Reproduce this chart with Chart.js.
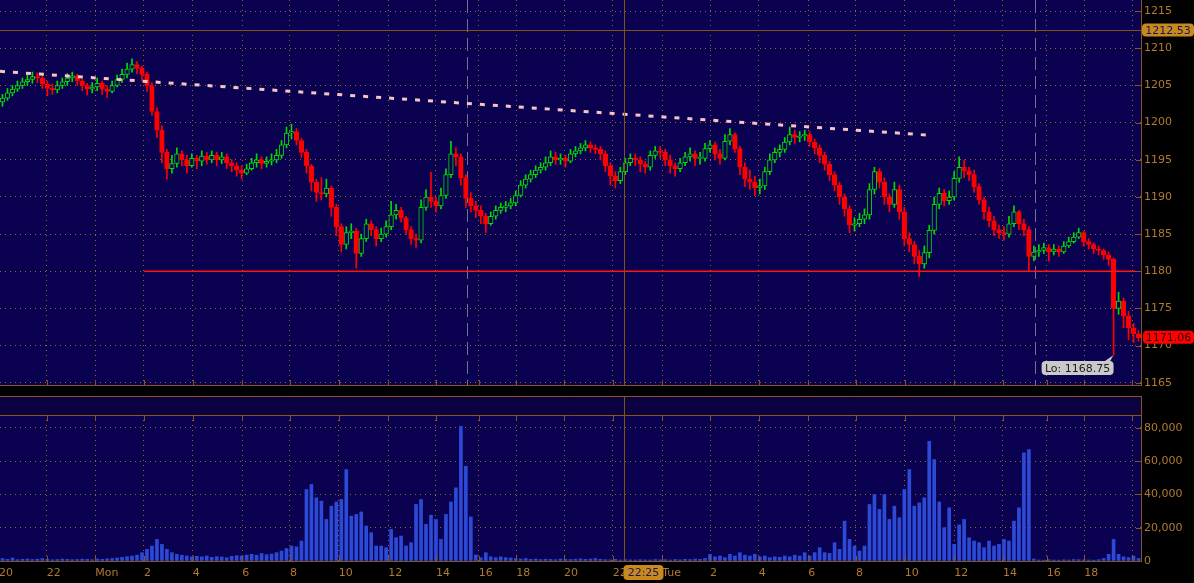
<!DOCTYPE html>
<html>
<head>
<meta charset="utf-8">
<script src="https://cdn.jsdelivr.net/npm/chart.js@4/dist/chart.umd.min.js"></script>
<style>
  html, body { margin: 0; padding: 0; background: #000; overflow: hidden; }
  #wrap { position: relative; width: 1194px; height: 583px; }
  #price { position: absolute; left: 0; top: 0; }
  #volume { position: absolute; left: 0; top: 386px; }
</style>
</head>
<body>
<div id="wrap">
  <canvas id="price" width="1194" height="386"></canvas>
  <canvas id="volume" width="1194" height="197"></canvas>
</div>
<script>
// bars (roughly 12 min each), oldest first
const firstOpen = 1202.8;
const closes = [
  1203.3, 1204, 1204.5, 1205, 1205.5, 1205.8, 1206.2, 1206, 1205.2, 1204.6,
  1204.4, 1205, 1205.5, 1206, 1206.3, 1205.6, 1205, 1204.5, 1204.8, 1205.3,
  1204.5, 1204.2, 1205, 1205.8, 1206.5, 1207.2, 1207.8, 1207.3, 1206.5, 1205,
  1201.5, 1199, 1196, 1193.8, 1194.5, 1195.8, 1195, 1194.2, 1195.2, 1194.8,
  1195.5, 1195, 1195.6, 1195, 1195.4, 1194.6, 1194.2, 1193.6, 1193.2, 1193.8,
  1194.6, 1195, 1194.5, 1194.8, 1195, 1195.6, 1197, 1198.6, 1198.8, 1197.6,
  1196, 1194.2, 1192, 1190.6, 1190.4, 1191.2, 1188.6, 1186, 1183.6, 1185.2,
  1185.4, 1182.4, 1184.4, 1186.4, 1185.6, 1184.4, 1185, 1186, 1187.6, 1188.2,
  1187.2, 1185.6, 1184.4, 1184.2, 1188.6, 1190, 1189.4, 1188.8, 1190.2, 1193,
  1195.8, 1195.4, 1192.6, 1189.8, 1188.8, 1188.2, 1187.4, 1186.4, 1187.4, 1188.2,
  1188.6, 1188.8, 1189.2, 1190.2, 1191.6, 1192.4, 1193, 1193.6, 1194, 1194.6,
  1195.4, 1195, 1195.2, 1194.8, 1195.8, 1196.2, 1196.6, 1197, 1196.6, 1196.4,
  1195.8, 1194.2, 1192.8, 1192.2, 1193.4, 1194.6, 1195.2, 1195, 1194.4, 1194,
  1195.6, 1196.2, 1196, 1195, 1194.2, 1193.8, 1194.6, 1195.4, 1195.8, 1195.2,
  1195.2, 1196.5, 1197, 1195.8, 1195.2, 1197.5, 1198.4, 1196.5, 1194, 1192.4,
  1192, 1191.2, 1191.5, 1193.4, 1195, 1196, 1196.4, 1197.4, 1198.4, 1198,
  1198.2, 1198.4, 1197.4, 1196.6, 1195.6, 1194.4, 1193, 1191.6, 1190, 1188.4,
  1186.2, 1186.4, 1187, 1187.6, 1191, 1193.4, 1192, 1190, 1189, 1191,
  1188, 1184.4, 1183.6, 1182, 1181, 1182.5, 1185.5, 1189, 1190.5, 1189.5,
  1190, 1192.5, 1194, 1193.5, 1193, 1191.4, 1189.6, 1188, 1186.8, 1185.6,
  1185.2, 1185, 1186.4, 1188, 1186.4, 1185.6, 1182, 1182.6, 1182.8, 1183.2,
  1182.6, 1183, 1182.6, 1183.4, 1184, 1184.6, 1185.2, 1184, 1183.6, 1183,
  1182.8, 1182.2, 1181.6, 1175, 1176, 1174, 1172.4, 1171.6, 1171.06
];
const highs = [
  1203.8, 1204.6, 1205, 1205.6, 1206, 1206.4, 1206.8, 1206.7, 1206.4, 1205.6,
  1205.2, 1205.6, 1206, 1206.6, 1206.8, 1206.5, 1205.8, 1205.3, 1205.4, 1206,
  1205.6, 1205, 1205.6, 1206.4, 1207.2, 1208, 1208.6, 1208.2, 1207.6, 1206.8,
  1205.4, 1202, 1199.6, 1196.4, 1195.6, 1196.6, 1196.2, 1195.6, 1195.8, 1195.6,
  1196.2, 1196, 1196.2, 1196, 1196, 1195.8, 1195, 1194.6, 1194.2, 1194.4,
  1195.2, 1195.8, 1195.4, 1195.4, 1195.8, 1196.4, 1197.6, 1199.4, 1199.8, 1199.2,
  1197.9, 1196.4, 1194.4, 1192.4, 1192.6, 1192.4, 1191.5, 1189, 1186.4, 1186,
  1186.4, 1185.8, 1185, 1187, 1186.8, 1186, 1185.8, 1186.8, 1189.4, 1189,
  1188.6, 1187.4, 1186, 1185, 1189.6, 1191, 1193.3, 1190, 1191.2, 1193.8,
  1197.5, 1196.6, 1195.8, 1193, 1190.6, 1189.4, 1188.8, 1187.8, 1188, 1188.8,
  1189.2, 1189.4, 1189.8, 1190.8, 1192.2, 1193, 1193.6, 1194.2, 1194.6, 1195.4,
  1196.2, 1196, 1195.8, 1195.6, 1196.4, 1196.8, 1197.2, 1197.6, 1197.4, 1197,
  1196.8, 1196.2, 1194.6, 1193.4, 1194, 1195.2, 1195.8, 1195.8, 1195.4, 1194.8,
  1196.2, 1196.8, 1196.8, 1196.4, 1195.6, 1194.6, 1195.2, 1196, 1196.6, 1196.2,
  1196, 1197.2, 1197.6, 1197.4, 1196.4, 1198.4, 1199.2, 1198.6, 1196.8, 1194.6,
  1193.6, 1192.8, 1192.4, 1194, 1195.8, 1196.6, 1197, 1198, 1199.4, 1199,
  1198.8, 1199, 1198.8, 1197.8, 1197, 1196, 1194.8, 1193.4, 1192, 1190.4,
  1188.8, 1187.2, 1187.8, 1188.4, 1191.8, 1194, 1193.8, 1192.6, 1190.4, 1192,
  1191.6, 1188.6, 1185.2, 1184, 1182.8, 1183.4, 1186.2, 1190, 1191.2, 1191,
  1190.8, 1193.4, 1195.4, 1195, 1194, 1193.6, 1191.8, 1190, 1188.6, 1187.4,
  1186.2, 1186, 1187.4, 1188.8, 1188.2, 1187, 1186, 1183.4, 1183.6, 1183.8,
  1183.6, 1183.6, 1183.4, 1184, 1184.6, 1185.2, 1185.8, 1185.4, 1184.4, 1183.8,
  1183.4, 1183, 1182.6, 1181.8, 1177.2, 1176.4, 1174.6, 1173, 1172
];
const lows = [
  1202.2, 1203, 1203.6, 1204.2, 1204.6, 1205, 1205.3, 1205.4, 1204.6, 1203.6,
  1203.8, 1204, 1204.6, 1205, 1205.5, 1205, 1204.3, 1203.7, 1204, 1204.3,
  1203.8, 1203.4, 1204, 1204.8, 1205.4, 1206, 1206.8, 1206.6, 1205.6, 1204.2,
  1201, 1198, 1194.6, 1192.4, 1193.2, 1194, 1194.2, 1193.2, 1194, 1193.8,
  1194.2, 1194.4, 1194.6, 1194.2, 1194.5, 1193.8, 1193.4, 1192.8, 1192.4, 1193,
  1193.6, 1194, 1193.8, 1194, 1194.3, 1194.6, 1195.2, 1196.6, 1197.8, 1197,
  1195.3, 1193.2, 1190.8, 1189.4, 1189.6, 1190, 1187.4, 1184.8, 1182.6, 1183,
  1184.4, 1180.4, 1182, 1184, 1184.8, 1183.4, 1184, 1184.6, 1185.6, 1187,
  1186.6, 1185, 1183.6, 1183.2, 1183.8, 1188.2, 1188.6, 1188, 1188.4, 1189.8,
  1192.6, 1194.2, 1191.6, 1188.6, 1188, 1187.2, 1186.4, 1185.2, 1186.2, 1187,
  1187.8, 1188, 1188.4, 1188.8, 1190, 1191.2, 1192, 1192.6, 1193.2, 1193.6,
  1194.2, 1194.4, 1194.4, 1194, 1194.6, 1195.4, 1195.8, 1196.2, 1196, 1195.8,
  1195, 1193.4, 1191.6, 1191.2, 1191.8, 1193, 1194.2, 1194.2, 1193.4, 1193.2,
  1193.6, 1195.2, 1195.2, 1194.2, 1193.2, 1192.8, 1193.4, 1194.2, 1194.8, 1194.2,
  1194.4, 1194.8, 1196, 1195, 1194.4, 1195, 1197, 1196, 1193, 1191.4,
  1191, 1190.2, 1190.4, 1191, 1193, 1194.6, 1195.4, 1196, 1197, 1197.2,
  1197.4, 1197.6, 1196.8, 1195.8, 1194.6, 1193.6, 1192.2, 1190.8, 1189, 1187.4,
  1185.2, 1185.4, 1186, 1186.4, 1187, 1190.4, 1191.2, 1189, 1188, 1188.6,
  1187, 1183.4, 1182.6, 1181, 1179.3, 1180.4, 1181.8, 1185, 1188.4, 1188.8,
  1189, 1189.6, 1192, 1192.6, 1192.2, 1190.6, 1189, 1187, 1186, 1184.8,
  1184.4, 1184.2, 1184.6, 1186, 1185.6, 1184.8, 1180, 1181.4, 1182, 1182.4,
  1181.4, 1182.2, 1182, 1182.4, 1183.2, 1183.8, 1184.4, 1183.4, 1183, 1182.4,
  1182.2, 1181.6, 1180.8, 1168.75, 1174.2, 1172.4, 1170.8, 1170.4, 1170.6
];
const volumes = [
  1500, 1000, 1800, 800, 1000, 1200, 900, 1100, 1500, 1000,
  700, 900, 1200, 1000, 800, 900, 1100, 1000, 800, 1200,
  1000, 1300, 1500, 1800, 2200, 2600, 3000, 3500, 5000, 7000,
  9000, 13000, 10000, 7000, 5000, 4000, 3500, 3000, 2500, 2800,
  2500, 3000, 2200, 2600, 2400, 2000, 2800, 3200, 3000, 3500,
  4000, 3500, 4500, 3800, 4200, 5000, 6000, 7500, 9000, 8500,
  12000, 43000, 46000, 38000, 36000, 25000, 33000, 35500, 37000, 55000,
  27000, 28000, 29500, 21000, 17000, 9000, 9000, 8000, 19000, 14000,
  15000, 9000, 11000, 34000, 37000, 22000, 27500, 25000, 13000, 28000,
  35500, 44000, 81000, 57000, 26500, 3600, 2000, 5000, 2500, 2000,
  2500, 2000, 1800, 1500, 1200, 1500, 1000, 1200, 900, 1100,
  1000, 800, 1200, 1000, 900, 1100, 1300, 1000, 1200, 1500,
  1000, 800, 700, 1000, 600, 800, 700, 600, 800, 700,
  600, 900, 700, 800, 600, 900, 700, 1000, 900, 1200,
  1000, 1500, 4000, 2500, 3000, 2000, 4000, 3000, 5000, 3500,
  3000, 4000, 2500, 3000, 2000, 2500, 2200, 3000, 2500, 3500,
  3000, 5000, 3000, 5000, 8000, 5000, 4600, 11000, 7000, 24000,
  13000, 9000, 6000, 9000, 34000, 40000, 31000, 40000, 25000, 33000,
  26000, 43000, 55000, 33000, 35000, 38000, 72000, 61000, 35500, 20000,
  32000, 10000, 21700, 25000, 14000, 12000, 11000, 8000, 12000, 9000,
  10000, 13000, 12000, 24000, 32000, 65000, 67000, 1200, 600, 500,
  800, 600, 500, 700, 600, 900, 800, 700, 600, 500,
  800, 1500, 4000, 13000, 4000, 2500, 2000, 3000, 1500
];

const priceTicks = [1165, 1170, 1175, 1180, 1185, 1190, 1195, 1200, 1205, 1210, 1215];
const volumeTicks = [0, 20000, 40000, 60000, 80000];
// hour marks, in bar positions
const timeTickAt = [-0.7, 8.9, 18.6, 28.4, 38.2, 48.1, 57.7, 67.5, 77.4, 87.0, 95.6, 103.1,
  112.7, 122.5, 132.4, 142.0, 151.8, 161.7, 171.3, 181.1, 191.0, 200.8, 209.6, 217.1, 226.7];
const timeTickLabels = ['20', '22', 'Mon', '2', '4', '6', '8', '10', '12', '14', '16', '18',
  '20', '22', 'Tue', '2', '4', '6', '8', '10', '12', '14', '16', '18', ''];
const sessionBreaks = [93.2, 207.2];
const supportLevel = 1180;
const supportSpan = [28.4, 227.3];
const trendLine = [{ x: -0.5, y: 1206.9 }, { x: 186.2, y: 1198.3 }];
const cursor = { x: 124.7, price: 1212.53, time: '22:25' };

const N = closes.length;
const opens = [firstOpen].concat(closes.slice(0, -1));
const isUp = i => closes[i] >= opens[i];

const NAVY = '#0a0150';
const GRID = '#9a6424';
const AXIS = '#87561c';
const TEXT = '#b07a32';
const UP = '#00dc00';
const DOWN = '#ff0000';
const CURSOR = '#7d5514';
const FONT = { family: "'DejaVu Sans', sans-serif", size: 11 };
const CTXFONT = "11px 'DejaVu Sans', sans-serif";

function roundBox(ctx, x, y, w, h, r) {
  ctx.beginPath();
  ctx.moveTo(x + r, y);
  ctx.lineTo(x + w - r, y);
  ctx.quadraticCurveTo(x + w, y, x + w, y + r);
  ctx.lineTo(x + w, y + h - r);
  ctx.quadraticCurveTo(x + w, y + h, x + w - r, y + h);
  ctx.lineTo(x + r, y + h);
  ctx.quadraticCurveTo(x, y + h, x, y + h - r);
  ctx.lineTo(x, y + r);
  ctx.quadraticCurveTo(x, y, x + r, y);
  ctx.closePath();
}

function tag(ctx, x, y, w, h, fill, text, color) {
  ctx.fillStyle = fill;
  roundBox(ctx, x, y, w, h, 4);
  ctx.fill();
  ctx.fillStyle = color;
  ctx.font = CTXFONT;
  ctx.textAlign = 'center';
  ctx.textBaseline = 'middle';
  ctx.fillText(text, x + w / 2, y + h / 2 + 1);
}

function innerTicks(chart, top) {
  const { ctx, chartArea: a, scales } = chart;
  ctx.save();
  ctx.strokeStyle = AXIS;
  ctx.lineWidth = 1;
  ctx.beginPath();
  scales.y.ticks.forEach(t => {
    const y = Math.round(scales.y.getPixelForValue(t.value)) + 0.5;
    ctx.moveTo(a.right - 5, y);
    ctx.lineTo(a.right, y);
  });
  scales.x.ticks.forEach(t => {
    const x = Math.round(scales.x.getPixelForValue(t.value)) + 0.5;
    ctx.moveTo(x, a.bottom - 5);
    ctx.lineTo(x, a.bottom);
    if (top) {
      ctx.moveTo(x, a.top);
      ctx.lineTo(x, a.top + 6);
    }
  });
  ctx.stroke();
  ctx.restore();
}

const xBase = {
  type: 'linear',
  min: -0.5,
  max: N - 0.5,
  offset: false,
  afterBuildTicks: s => { s.ticks = timeTickAt.map(v => ({ value: v })); },
};

const pricePanel = {
  id: 'pricePanel',
  beforeDraw(chart) {
    const { ctx, chartArea: a } = chart;
    ctx.save();
    ctx.fillStyle = '#000';
    ctx.fillRect(0, 0, chart.width, chart.height);
    ctx.fillStyle = NAVY;
    ctx.fillRect(a.left, a.top, a.right - a.left, a.bottom - a.top);
    ctx.restore();
  },
  beforeDatasetsDraw(chart) {
    const { ctx, chartArea: a, scales } = chart;
    ctx.save();
    ctx.strokeStyle = '#72728e';
    ctx.lineWidth = 1;
    ctx.setLineDash([13, 6]);
    sessionBreaks.forEach(v => {
      const x = Math.round(scales.x.getPixelForValue(v)) + 0.5;
      ctx.beginPath();
      ctx.moveTo(x, a.top);
      ctx.lineTo(x, a.bottom);
      ctx.stroke();
    });
    ctx.restore();
  },
  afterDraw(chart) {
    const { ctx, chartArea: a, scales } = chart;
    innerTicks(chart, false);
    ctx.save();
    ctx.strokeStyle = AXIS;
    ctx.lineWidth = 1;
    ctx.beginPath();
    ctx.moveTo(a.left, a.bottom + 0.5);
    ctx.lineTo(a.right, a.bottom + 0.5);
    ctx.stroke();

    // crosshair
    const cx = Math.round(scales.x.getPixelForValue(cursor.x)) + 0.5;
    const cy = Math.round(scales.y.getPixelForValue(cursor.price)) + 0.5;
    ctx.strokeStyle = CURSOR;
    ctx.beginPath();
    ctx.moveTo(cx, a.top);
    ctx.lineTo(cx, a.bottom);
    ctx.moveTo(a.left, cy);
    ctx.lineTo(a.right, cy);
    ctx.stroke();

    // low callout
    let lowIdx = 0;
    lows.forEach((v, i) => { if (v < lows[lowIdx]) lowIdx = i; });
    const lx = scales.x.getPixelForValue(lowIdx);
    const ly = scales.y.getPixelForValue(lows[lowIdx]);
    const bw = 72, bh = 14;
    const bx = lx - bw, by = ly + 6;
    ctx.fillStyle = '#c9c9c9';
    ctx.beginPath();
    ctx.moveTo(bx + bw - 10, by + 1);
    ctx.lineTo(lx, ly);
    ctx.lineTo(bx + bw - 4, by + 1);
    ctx.closePath();
    ctx.fill();
    tag(ctx, bx, by, bw, bh, '#c9c9c9', 'Lo: ' + lows[lowIdx].toFixed(2), '#1c1c1c');

    // price tags on the axis
    tag(ctx, a.right + 1, cy - 7, 52, 13, '#c8891e', cursor.price.toFixed(2), '#1e1650');
    const last = closes[N - 1];
    const ly2 = scales.y.getPixelForValue(last);
    tag(ctx, a.right + 2, ly2 - 7, 51, 13, DOWN, last.toFixed(2), '#2a0000');
    ctx.restore();
  },
};

new Chart(document.getElementById('price'), {
  type: 'bar',
  data: {
    datasets: [
      {
        type: 'line',
        data: trendLine,
        borderColor: '#f7c4c4',
        borderWidth: 3,
        borderDash: [5, 8],
        pointRadius: 0,
        order: -2,
      },
      {
        type: 'line',
        data: supportSpan.map(x => ({ x, y: supportLevel })),
        borderColor: '#ff1414',
        borderWidth: 1.5,
        pointRadius: 0,
        order: -1,
      },
      {
        type: 'bar',
        data: closes.map((c, i) => ({ x: i, y: [opens[i], c] })),
        grouped: false,
        barThickness: 4.6,
        minBarLength: 1,
        borderWidth: 1,
        borderSkipped: false,
        backgroundColor: ctx => (isUp(ctx.dataIndex) ? NAVY : DOWN),
        borderColor: ctx => (isUp(ctx.dataIndex) ? UP : DOWN),
        order: 0,
      },
      {
        type: 'bar',
        data: closes.map((c, i) => ({ x: i, y: [lows[i], highs[i]] })),
        grouped: false,
        barThickness: 1,
        borderWidth: 0,
        backgroundColor: ctx => (isUp(ctx.dataIndex) ? UP : DOWN),
        order: 1,
      },
    ],
  },
  options: {
    responsive: false,
    animation: false,
    events: [],
    layout: { padding: { left: 0, right: 0, top: 0, bottom: 1 } },
    plugins: { legend: { display: false }, tooltip: { enabled: false } },
    scales: {
      x: {
        ...xBase,
        afterFit: s => { s.height = 0; s.paddingLeft = 0; s.paddingRight = 0; },
        ticks: { display: false },
        grid: { color: GRID, drawTicks: false, offset: false },
        border: { display: false, dash: [1, 4] },
      },
      y: {
        position: 'right',
        min: 1164.7,
        max: 1216.5,
        afterBuildTicks: s => { s.ticks = priceTicks.map(v => ({ value: v })); },
        afterFit: s => { s.width = 53; s.paddingTop = 0; s.paddingBottom = 0; },
        ticks: { color: TEXT, font: FONT, padding: 3, callback: v => String(v) },
        grid: { color: GRID, drawTicks: false },
        border: { display: true, color: AXIS, dash: [1, 4] },
      },
    },
  },
  plugins: [pricePanel],
});

const volumePanel = {
  id: 'volumePanel',
  beforeDraw(chart) {
    const { ctx, chartArea: a } = chart;
    ctx.save();
    ctx.fillStyle = '#000';
    ctx.fillRect(0, 0, chart.width, chart.height);
    // empty indicator strip above the volume pane
    ctx.fillStyle = '#0a0242';
    ctx.fillRect(a.left, a.top - 19, a.right - a.left, 19);
    ctx.strokeStyle = AXIS;
    ctx.lineWidth = 1;
    ctx.beginPath();
    ctx.moveTo(a.left, a.top - 18.5);
    ctx.lineTo(a.right, a.top - 18.5);
    ctx.moveTo(a.left, a.top + 0.5);
    ctx.lineTo(a.right, a.top + 0.5);
    ctx.moveTo(a.right + 0.5, a.top - 19);
    ctx.lineTo(a.right + 0.5, a.top);
    ctx.stroke();
    ctx.fillStyle = NAVY;
    ctx.fillRect(a.left, a.top + 1, a.right - a.left, a.bottom - a.top - 1);
    ctx.restore();
  },
  afterDraw(chart) {
    const { ctx, chartArea: a, scales } = chart;
    innerTicks(chart, true);
    ctx.save();
    const cx = Math.round(scales.x.getPixelForValue(cursor.x)) + 0.5;
    ctx.strokeStyle = CURSOR;
    ctx.lineWidth = 1;
    ctx.beginPath();
    ctx.moveTo(cx, a.top - 19);
    ctx.lineTo(cx, a.bottom);
    ctx.stroke();
    tag(ctx, cx - 1, a.bottom + 4, 40, 15, '#c8891e', cursor.time, '#1e1650');
    ctx.restore();
  },
};

new Chart(document.getElementById('volume'), {
  type: 'bar',
  data: {
    datasets: [
      {
        data: volumes.map((v, i) => ({ x: i, y: v })),
        grouped: false,
        barThickness: 3,
        borderWidth: 0,
        backgroundColor: '#2c4ad6',
      },
    ],
  },
  options: {
    responsive: false,
    animation: false,
    events: [],
    layout: { padding: { left: 0, right: 0, top: 29, bottom: 0 } },
    plugins: { legend: { display: false }, tooltip: { enabled: false } },
    scales: {
      x: {
        ...xBase,
        afterFit: s => { s.height = 22; s.paddingLeft = 0; s.paddingRight = 0; },
        ticks: {
          color: TEXT,
          font: FONT,
          align: 'start',
          autoSkip: false,
          maxRotation: 0,
          padding: 6,
          callback: (v, i) => timeTickLabels[i],
        },
        grid: { color: GRID, drawTicks: false, offset: false },
        border: { display: true, color: AXIS, dash: [1, 4] },
      },
      y: {
        position: 'right',
        min: 0,
        max: 87800,
        afterBuildTicks: s => { s.ticks = volumeTicks.map(v => ({ value: v })); },
        afterFit: s => { s.width = 53; s.paddingTop = 0; s.paddingBottom = 0; },
        ticks: { color: TEXT, font: FONT, padding: 3, callback: v => v.toLocaleString('en-US') },
        grid: { color: GRID, drawTicks: false },
        border: { display: true, color: AXIS, dash: [1, 4] },
      },
    },
  },
  plugins: [volumePanel],
});
</script>
</body>
</html>
